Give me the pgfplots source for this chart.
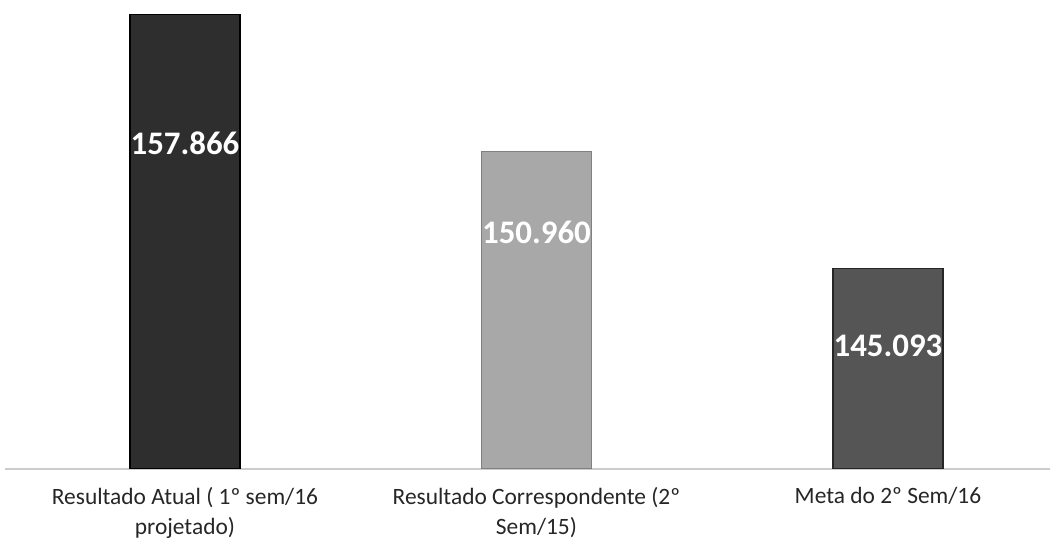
\documentclass[border=0pt]{standalone}
\usepackage{fontspec}
\setmainfont{Carlito}
\usepackage{pgfplots}
\pgfplotsset{compat=1.18}
\definecolor{barA}{HTML}{2E2E2E}
\definecolor{barB}{HTML}{A8A8A8}
\definecolor{barC}{HTML}{555555}
\begin{document}
\begin{tikzpicture}[x=1bp,y=1bp]
\path[use as bounding box] (0,0) rectangle (1054,541);
\begin{axis}[
  at={(5bp,72bp)}, anchor=south west,
  scale only axis, width=1045bp, height=457.3bp,
  xmin=-0.512, xmax=2.461, ymin=135000, ymax=158000,
  axis y line=none, axis x line*=bottom,
  x axis line style={draw=black!20, line width=1.5bp, -},
  xtick={0,1,2}, major tick length=0pt,
  xticklabels={{Resultado Atual ( 1º sem/16\\projetado)},{Resultado Correspondente (2º\\Sem/15)},{Meta do 2º Sem/16}},
  xticklabel style={align=center, font=\fontsize{23.5}{29.5}\selectfont, text=black!85, yshift=-15bp},
]
\addplot[ybar, bar width=0.313, bar shift=0pt, fill=barA, draw=black, line width=1.5bp] coordinates {(0,157866)};
\addplot[ybar, bar width=0.313, bar shift=0pt, fill=barB, draw=black!50, line width=1.5bp] coordinates {(1,150960)};
\addplot[ybar, bar width=0.313, bar shift=0pt, fill=barC, draw=black!85, line width=1.5bp] coordinates {(2,145093)};
\addplot[draw=none, mark=none, nodes near coords, point meta=explicit symbolic,
  every node near coord/.append style={anchor=center, text=white, font=\fontsize{33}{38}\selectfont\bfseries}]
  table[meta=label] {
x y label
0 151398 157.866
1 146921 150.960
2 141187 145.093
};
\end{axis}
\end{tikzpicture}
\end{document}
